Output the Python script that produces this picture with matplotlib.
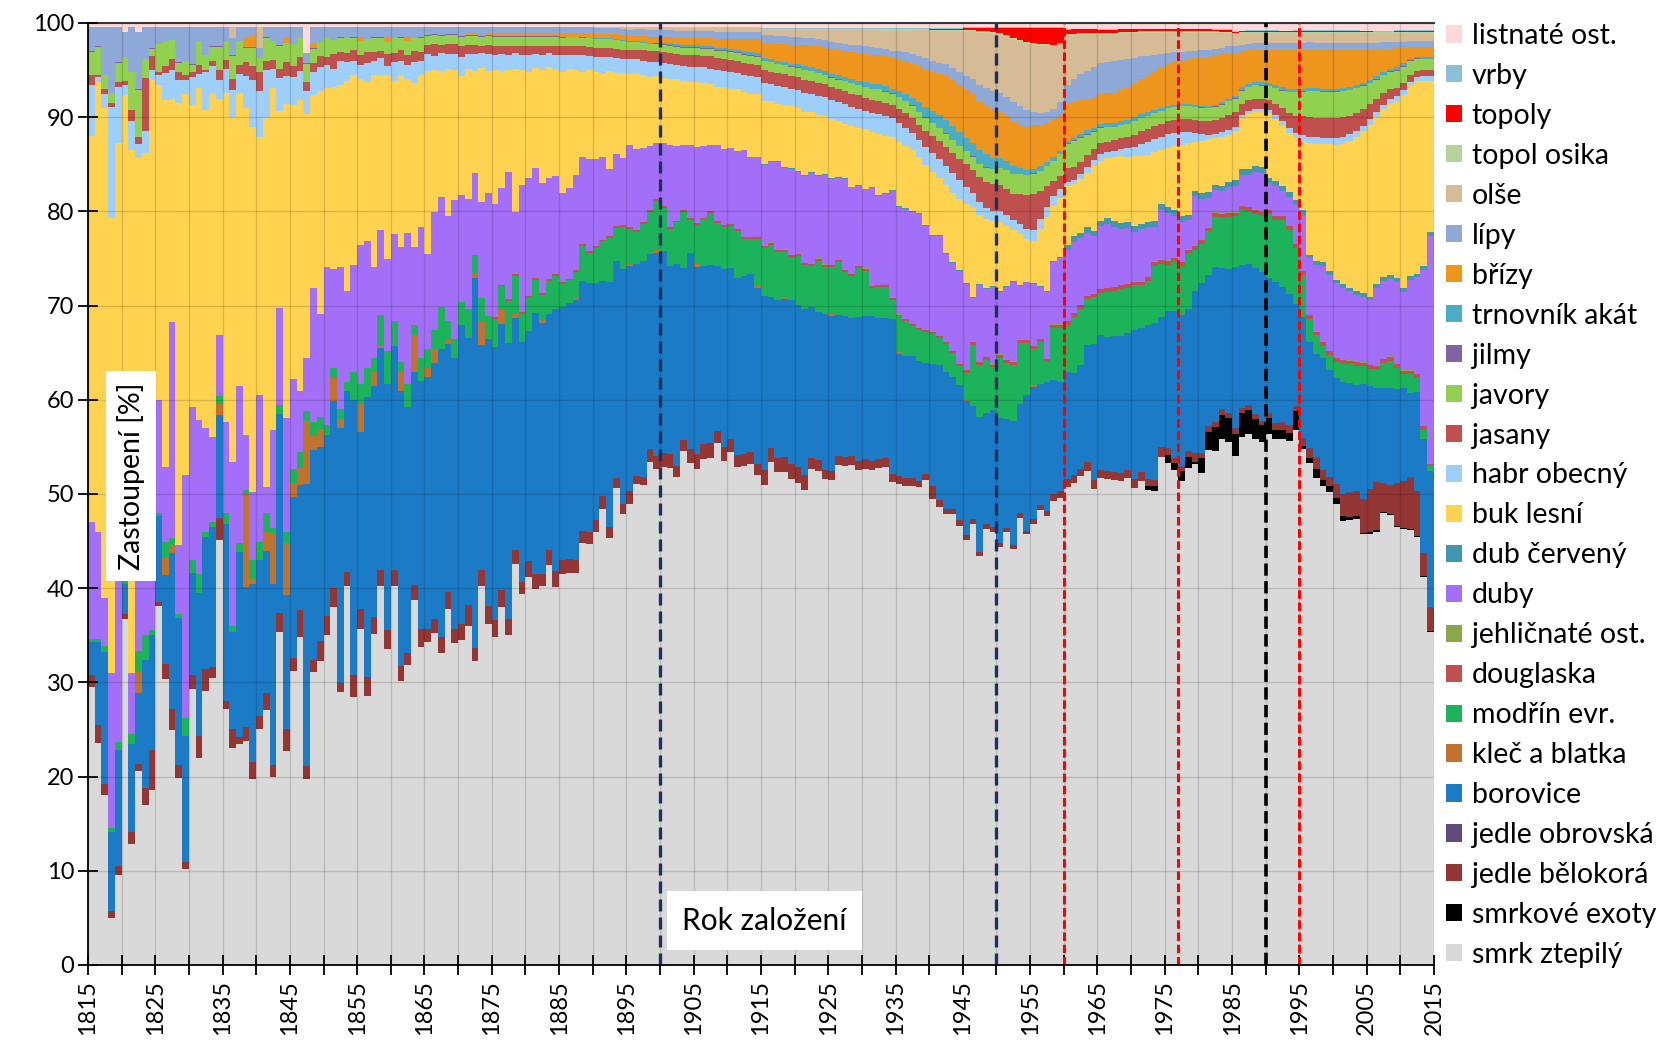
import numpy as np
import matplotlib
matplotlib.use("Agg")
import matplotlib.pyplot as plt
from matplotlib.patches import Patch

plt.rcParams['font.family'] = ['Lato', 'DejaVu Sans']


def values(text):
    # one value per year, 1815 ... 2014
    out = np.array(text.split(), dtype=float)
    assert out.size == 200, out.size
    return out


Z = "0 0 0 0 0 0 0 0 0 0\n"

first_year = 1815
last_year = 2015

# share of each species per year of stand founding (%)
smrk_ztepily = values("""
29.5 23.6 18.1 5.0 9.6 37.0 12.9 20.7 17.0 18.6
38.1 30.4 25.0 19.9 10.2 29.3 22.0 29.1 30.5 45.1
27.3 23.6 23.6 24.0 20.0 25.6 27.1 20.0 35.7 22.8
31.4 34.8 20.3 31.5 32.5 35.2 38.1 29.0 40.3 28.5
35.8 28.6 35.2 40.3 33.7 40.3 30.2 32.0 38.8 33.8
34.3 35.0 33.2 37.8 34.2 34.5 35.9 32.3 40.3 36.3
35.0 38.2 35.0 42.8 39.6 41.3 40.0 40.5 42.7 40.3
41.6 41.8 41.8 44.9 44.9 46.2 48.5 45.5 50.8 48.3
49.2 51.5 51.5 53.8 53.3 53.3 53.3 52.2 55.0 53.6
52.9 54.0 54.0 55.6 53.6 54.5 52.9 52.9 52.9 51.8
51.1 53.3 52.2 52.2 51.5 51.1 50.6 52.6 52.6 51.8
51.8 53.3 53.3 53.3 52.9 52.9 52.6 52.6 52.6 50.8
50.8 50.6 50.6 50.6 51.5 49.5 48.6 47.9 47.9 46.6
45.3 47.0 43.6 46.5 46.0 44.7 46.0 44.2 47.5 45.7
46.9 48.6 48.0 49.5 50.0 50.8 51.7 52.5 52.9 51.0
51.8 51.8 51.8 51.8 52.2 51.1 52.0 50.8 50.8 54.5
53.8 53.2 52.2 53.5 54.0 53.0 55.1 54.1 55.1 54.5
52.9 55.8 56.5 56.0 55.5 56.5 55.8 55.5 55.5 56.8
55.0 54.1 52.2 51.1 50.4 49.1 47.3 47.3 47.3 45.5
45.5 45.5 47.3 47.3 46.4 46.4 46.4 45.8 41.4 35.4
""")

smrkove_exoty = values(Z * 15 + """
0 0 0 0 0 0 0 0.4 0.5 0
0.8 0.8 1.0 1.2 0.2 1.6 2.0 2.6 2.6 2.5
2.3 2.6 2.6 2.2 1.8 1.6 1.0 0.9 0.8 2.0
0.3 0.5 1.0 0.7 0.7 0.6 0.5 0.3 0.3 0.2
0.2 0.2 0.1 0.1 0.1 0.1 0.1 0.1 0.1 0.1
""")

jedle_belokora = values("""
1.3 1.9 1.1 0.7 0.9 0.5 1.2 0.8 1.8 4.2
0.4 1.6 2.2 1.3 0.7 1.5 2.3 2.3 1.2 2.4
0.9 2.0 0.7 1.5 1.8 1.5 1.8 1.3 2.0 2.4
1.4 2.9 1.4 1.3 2.1 2.0 2.0 1.0 1.5 2.3
2.2 2.0 1.8 1.7 2.1 1.7 1.6 1.3 1.6 1.9
1.4 1.5 1.7 1.9 1.5 1.8 2.3 1.4 1.7 1.9
1.8 1.9 1.7 1.5 1.3 1.7 1.6 1.2 1.6 1.7
1.5 1.5 1.4 1.3 1.3 1.3 1.4 1.2 1.1 1.0
1.3 0.8 0.8 1.4 1.4 1.5 1.5 1.2 1.1 1.5
1.6 1.6 1.5 1.3 1.5 1.4 1.3 1.3 1.3 1.1
1.5 1.5 1.5 1.6 1.6 1.7 1.6 1.2 1.2 1.0
1.0 1.0 1.0 1.0 1.0 1.0 1.0 1.0 1.0 0.8
0.8 0.8 0.8 0.7 0.7 1.3 0.7 0.6 0.6 0.6
0.5 0.5 0.5 0.5 0.5 0.5 0.4 0.4 0.5 0.4
0.5 0.5 0.6 0.7 0.7 0.8 0.8 0.8 1.0 0.9
0.9 0.9 0.8 0.9 0.9 0.9 1.0 0.8 0.6 1.0
0.7 0.5 0.5 0.6 0.9 0.5 0.5 0.5 0.5 0.5
0.5 0.5 0.4 0.4 0.4 0.5 0.7 0.8 0.8 0.5
0.8 1.0 1.2 1.0 0.9 1.5 2.3 2.6 2.6 3.5
4.5 5.0 3.0 3.0 4.5 5.0 5.5 4.8 2.4 2.5
""")

jedle_obrovska = values(Z * 16 + """
0.05 0.05 0.05 0.05 0.05 0.05 0.05 0.05 0.05 0.05
""" * 4)

borovice = values("""
3.5 8.8 14.0 8.4 12.3 3.2 9.4 7.6 13.6 12.2
9.2 9.4 16.6 15.6 13.4 10.8 15.2 14.1 14.8 10.9
18.8 10.5 19.7 15.0 19.2 16.9 15.1 19.3 21.3 14.3
17.2 13.3 30.9 22.5 20.7 19.3 19.9 27.0 19.2 29.2
18.8 29.8 24.5 23.5 26.2 23.8 29.2 26.2 22.6 26.3
26.8 27.0 30.6 26.3 28.8 31.7 28.3 39.3 24.0 28.3
29.2 28.4 29.3 24.7 25.6 24.5 27.9 26.8 25.2 28.0
26.9 27.3 27.8 26.6 26.6 25.3 22.9 26.1 23.1 25.2
24.0 22.7 23.2 20.8 21.7 21.6 20.2 21.6 18.4 20.9
20.0 18.9 19.0 17.6 18.9 18.1 18.8 18.8 18.8 18.6
18.6 16.0 16.8 16.7 17.4 17.2 17.6 16.0 15.7 16.7
16.5 15.0 15.0 14.7 15.4 15.3 15.4 14.9 14.7 16.4
12.9 12.9 12.9 12.7 11.8 13.0 14.3 14.5 14.0 14.3
14.2 12.0 14.4 11.8 12.5 13.3 11.6 13.2 11.5 14.4
14.1 12.9 13.8 12.2 11.7 11.4 11.0 11.2 12.5 14.6
14.3 14.3 14.6 14.7 14.7 16.0 15.4 16.4 16.9 14.0
14.7 15.8 16.3 15.2 17.4 18.4 16.2 16.3 14.8 15.0
16.7 15.1 15.0 15.6 15.8 14.4 14.9 14.3 13.9 10.8
12.9 11.4 11.1 11.9 11.4 11.3 11.9 11.6 11.3 12.1
10.8 9.9 10.0 10.2 10.0 9.8 9.0 10.6 12.1 14.5
""")

klec_a_blatka = values("""
0 0 0 0 0 0 0 2.2 0 0
0 1.8 0.8 0 0 0 0 0 0 1.2
0 0 0 10.0 0.5 0 2.0 5.4 0 5.5
1.5 1.8 6.9 1.5 2.0 0 2.5 1.0 0 0
3.0 0 1.5 0.3 0 0 2.0 0 4.0 0
1.0 1.5 0 0.5 0 0 0 0.5 2.5 0
0 1.5 0 0.4 0 0 0 0.3 0 0
0 0 0.3 0 0 0 0 0 0 0
0.2 0 0 0 0.4 0 0 0 0 0
0.3 0 0 0 0 0 0 0 0 0.2
0 0 0 0.2 0 0 0 0 0 0
0.2 0 0 0 0 0 0 0 0 0
0.2 0 0 0 0 0 0 0 0 0
0.2 0 0 0 0 0 0 0 0 0
0.2 0 0 0 0 0 0 0 0 0
""" + Z * 5)

modrin = values("""
0.3 0.3 0.7 0.4 0.9 0.3 1.0 2.2 2.6 0.6
0.3 1.7 0.8 0.5 1.9 1.4 2.0 0.5 0.5 0.8
1.2 0.7 1.0 0.5 2.0 2.0 2.0 0.5 1.0 1.2
1.5 1.7 1.0 1.5 1.2 1.0 1.0 1.0 1.0 3.0
2.2 3.1 1.5 3.2 3.5 2.7 1.0 2.5 1.0 2.5
2.0 2.0 4.5 2.0 2.0 2.5 3.0 2.0 2.5 2.5
3.0 2.5 4.5 4.1 3.0 3.5 3.5 2.7 3.5 3.5
2.5 2.4 2.7 3.7 3.2 3.7 4.2 4.7 3.5 4.5
3.8 3.5 4.0 4.5 5.2 4.6 4.0 4.5 6.0 3.5
4.2 5.0 5.5 4.5 4.5 4.5 5.0 4.0 3.7 5.0
5.1 5.5 5.0 4.8 4.5 5.2 4.7 4.4 5.5 5.0
5.0 5.7 4.7 4.5 5.2 4.8 3.0 3.3 3.3 2.0
3.8 3.7 3.2 3.3 3.3 3.2 2.9 3.0 2.5 2.0
2.8 6.5 5.5 5.7 4.5 6.5 6.0 6.0 6.5 5.5
3.8 4.5 2.1 5.6 5.8 5.0 6.0 6.0 4.9 5.0
4.5 4.8 4.8 5.0 4.8 4.8 4.6 4.7 6.1 5.7
5.0 5.3 5.3 6.0 4.5 4.2 4.7 5.3 5.3 5.5
5.3 5.8 5.7 5.8 6.0 6.8 6.6 7.0 6.8 5.9
4.5 2.5 2.0 1.3 1.6 1.7 2.0 2.0 2.0 1.9
1.8 1.9 2.6 2.9 2.2 1.5 2.0 1.5 1.0 0.5
""")

douglaska = values(Z * 6 + """
0.2 0.2 0.2 0.2 0.2 0.2 0.2 0.2 0.2 0.2
""" * 7 + """
0.3 0.3 0.3 0.3 0.3 0.3 0.3 0.3 0.3 0.3
0.3 0.3 0.3 0.3 0.3 0.4 0.4 0.4 0.4 0.4
0.4 0.4 0.4 0.4 0.4 0.4 0.4 0.4 0.4 0.4
0.4 0.4 0.4 0.4 0.4 0.4 0.4 0.4 0.4 0.4
0.4 0.4 0.4 0.4 0.4 0.4 0.4 0.4 0.4 0.4
0.4 0.4 0.4 0.4 0.4 0.4 0.4 0.4 0.4 0.4
0.4 0.4 0.4 0.4 0.4 0.4 0.4 0.4 0.4 0.3
""")

jehlicnate_ost = values(Z * 10 + """
0.05 0.05 0.05 0.05 0.05 0.05 0.05 0.05 0.05 0.05
""" * 10)

duby = values("""
12.4 11.4 5.1 16.5 21.3 6.0 6.5 13.5 12.0 12.4
12.0 8.0 22.9 7.3 25.8 16.3 16.4 11.0 9.1 6.5
9.7 17.8 16.7 5.8 7.3 15.9 2.8 10.5 10.4 12.2
9.6 6.5 5.8 14.4 11.0 16.9 10.6 15.1 9.6 11.3
14.8 13.5 9.6 9.1 9.9 9.2 12.3 16.1 8.3 13.9
10.1 12.5 11.6 11.1 14.7 11.4 11.7 8.7 10.2 13.1
12.0 10.3 13.4 6.6 13.5 12.5 11.7 11.8 10.8 10.5
9.5 9.6 10.1 9.3 9.8 9.3 8.8 7.2 7.7 7.2
8.7 8.7 7.9 6.9 6.1 6.8 8.8 8.0 7.0 7.8
8.1 7.6 7.1 8.1 8.1 8.1 8.2 9.2 8.5 8.5
8.5 8.5 9.3 8.6 9.1 8.6 9.3 9.6 8.8 9.5
9.2 8.7 9.7 9.2 8.5 8.4 10.4 9.4 9.6 11.2
11.3 11.6 11.8 12.0 11.0 10.1 10.6 9.3 9.3 9.8
9.2 4.7 8.2 7.2 8.2 6.7 7.7 8.4 5.7 6.1
6.6 5.6 7.2 6.7 7.1 7.5 7.6 7.1 6.7 6.1
6.6 6.8 6.4 6.0 6.0 5.3 5.6 5.3 3.7 5.3
5.1 4.5 4.3 3.1 5.3 4.4 3.1 2.3 2.3 2.6
2.7 3.3 3.4 4.0 4.1 2.8 3.1 2.6 3.0 4.1
5.9 6.1 7.1 8.1 8.1 7.9 7.6 7.3 7.1 6.9
6.8 8.1 8.1 8.1 8.7 8.3 9.6 10.3 16.6 24.2
""")

dub_cerveny = values(Z * 10 + """
0.1 0.1 0.1 0.1 0.1 0.1 0.1 0.1 0.1 0.1
""" * 4 + """
0.1 0.1 0.1 0.1 0.1 0.6 0.6 0.6 0.6 0.6
0.6 0.6 0.6 0.6 0.6 0.6 0.6 0.6 0.6 0.6
0.6 0.6 0.6 0.6 0.6 0.6 0.6 0.6 0.6 0.6
0.6 0.6 0.6 0.6 0.6 0.6 0.6 0.6 0.6 0.6
0.6 0.4 0.4 0.4 0.4 0.4 0.4 0.4 0.4 0.4
0.4 0.4 0.4 0.4 0.4 0.4 0.4 0.4 0.4 0.4
""")

buk_lesni = values("""
41.0 47.8 52.0 48.3 42.3 46.0 55.6 39.2 39.2 46.0
33.5 39.0 23.7 46.9 40.5 32.0 35.2 33.8 36.4 25.1
35.1 37.4 31.3 35.1 39.3 28.1 39.2 36.4 21.1 33.5
29.3 30.9 26.7 20.7 23.9 19.0 19.3 19.4 22.4 20.2
17.7 17.0 20.4 16.4 19.6 16.3 18.2 16.4 17.5 16.1
19.4 15.0 13.4 15.7 13.8 12.6 13.8 10.8 14.3 12.9
14.3 12.5 10.9 15.2 12.3 11.3 10.6 12.0 11.8 11.3
12.8 12.7 11.2 9.0 9.5 9.3 8.8 10.4 8.6 9.1
7.6 8.1 7.9 7.4 7.2 7.0 7.0 7.1 6.8 6.8
7.0 6.7 6.5 6.2 6.5 6.2 6.6 6.1 6.6 6.6
6.8 6.4 6.1 6.6 6.5 6.7 6.7 6.4 6.4 6.2
6.3 6.0 5.8 6.5 6.1 6.3 5.8 6.5 6.0 5.5
6.8 6.6 6.4 5.9 6.4 6.7 6.0 7.2 7.4 7.6
8.4 9.4 7.4 7.4 6.9 7.4 6.4 5.4 5.4 4.5
4.5 6.0 7.9 5.8 6.3 6.2 5.6 5.8 5.8 6.9
6.4 6.4 6.8 7.2 7.0 7.5 7.3 7.1 7.4 5.8
6.4 6.9 7.7 7.7 5.2 5.6 5.7 4.9 5.1 4.9
5.1 5.4 5.9 5.8 5.9 6.9 6.6 6.3 6.2 6.5
7.4 12.0 12.6 12.6 13.5 14.4 15.0 15.6 16.4 17.1
18.1 17.6 17.6 18.1 18.8 20.6 20.3 20.6 19.8 16.1
""")

habr_obecny = values("""
5.5 0.5 1.5 11.8 6.0 1.0 3.0 1.5 2.4 1.0
1.0 2.8 3.0 2.5 1.5 3.0 1.5 4.0 3.0 2.0
2.5 3.0 2.0 3.5 5.0 5.0 5.0 2.0 3.5 3.0
3.0 3.0 2.5 2.5 2.5 2.5 2.0 2.5 2.0 1.5
1.5 2.0 1.5 1.8 1.0 2.0 1.5 1.5 2.2 1.5
1.8 1.5 2.0 1.6 1.8 2.0 1.6 1.8 1.5 1.8
1.6 1.8 1.5 1.7 1.6 1.8 1.5 1.6 1.5 1.6
1.8 1.5 1.6 1.8 1.5 1.6 1.8 1.5 1.6 1.5
1.6 1.5 1.5 1.6 1.5 1.6 1.6 1.5 1.6 1.6
1.6 1.7 1.6 1.8 1.7 1.8 1.7 1.8 1.9 1.8
1.9 1.8 1.9 1.9 1.8 1.9 2.0 1.9 2.0 2.0
2.0 2.0 2.1 2.0 2.1 2.0 2.1 2.1 2.1 2.0
2.0 1.9 1.8 1.8 1.9 2.0 2.0 2.1 2.1 2.0
1.8 1.6 1.3 1.1 1.1 1.1 1.1 1.1 1.1 1.1
1.1 1.1 1.1 1.1 1.0 0.5 0.4 0.5 0.6 0.7
0.7 0.7 0.7 0.8 0.9 1.0 1.2 1.4 1.4 1.4
1.4 1.4 1.4 1.2 1.0 0.8 0.5 0.5 0.5 0.5
0.4 0.3 0.3 0.3 0.3 0.3 0.4 0.5 0.5 0.6
0.6 0.7 0.7 0.7 0.7 0.7 0.7 0.7 0.6 0.6
0.6 0.5 0.5 0.5 0.5 0.5 0.5 0.5 0.5 0.5
""")

jasany = values("""
1.0 0.2 0.5 0.5 0.5 0.5 1.2 0.8 5.6 1.5
0.3 0.8 1.2 0.8 0.5 0.5 1.0 0.3 0.5 1.0
1.0 1.2 1.0 1.5 1.5 2.0 1.0 1.0 1.0 1.5
1.2 1.5 1.0 1.0 1.2 0.8 1.5 1.0 1.0 1.2
1.0 1.2 1.0 0.8 1.2 1.0 1.2 1.0 1.2 1.0
1.0 1.2 0.8 1.0 1.0 1.2 0.9 1.0 0.8 1.0
1.0 0.9 1.0 0.8 1.0 1.0 0.9 1.0 0.8 1.0
1.0 1.0 1.0 1.0 1.0 1.0 1.0 1.0 1.0 1.0
1.0 1.0 1.1 1.1 1.1 1.1 1.2 1.2 1.2 1.2
1.2 1.2 1.3 1.3 1.3 1.3 1.3 1.3 1.3 1.3
1.3 1.3 1.3 1.3 1.4 1.4 1.4 1.4 1.4 1.4
1.4 1.4 1.4 1.4 1.4 1.4 1.4 1.4 1.4 1.4
1.5 1.5 1.6 1.6 1.7 1.8 1.9 2.0 2.1 2.2
2.4 2.5 2.7 2.8 2.8 2.8 2.8 2.8 3.2 3.6
3.9 3.0 2.2 1.6 1.4 1.4 1.4 1.3 1.3 1.2
1.2 1.1 1.1 1.1 1.2 1.3 1.4 1.4 1.4 1.4
1.4 1.4 1.4 1.4 1.4 1.4 1.4 1.4 1.5 1.6
1.6 1.2 1.1 1.1 1.1 1.1 1.2 1.4 1.6 1.8
2.0 2.1 2.1 2.1 2.1 2.1 2.1 2.0 1.9 1.8
1.6 1.4 1.2 1.0 0.9 0.8 0.7 0.6 0.6 0.6
""")

javory = values("""
2.5 3.0 1.5 1.0 2.0 2.5 4.0 5.0 2.0 0.8
3.0 2.5 2.0 1.0 1.5 0.8 2.5 1.5 1.5 2.5
2.0 2.5 2.5 1.5 2.0 1.5 2.5 2.0 2.5 2.0
2.3 2.0 2.0 1.5 1.5 2.0 1.5 1.5 1.5 1.3
1.5 1.3 1.5 1.4 1.3 1.5 1.3 1.5 1.3 1.5
1.0 1.0 1.0 1.0 1.0 1.0 1.0 1.0 1.0 1.0
1.0 1.0 1.0 1.0 1.0 1.0 1.0 1.0 1.0 1.0
0.9 0.9 0.9 0.9 0.9 0.9 0.9 0.9 0.9 0.9
0.8 0.8 0.8 0.8 0.8 0.8 0.8 0.8 0.8 0.8
0.8 0.8 0.8 0.8 0.9 0.9 0.9 0.9 0.9 0.9
1.0 1.0 1.0 1.0 1.0 1.0 1.0 1.0 1.0 1.0
1.0 1.0 1.0 1.1 1.1 1.1 1.1 1.2 1.2 1.2
1.2 1.3 1.3 1.4 1.4 1.4 1.4 1.4 1.4 1.4
1.4 1.4 1.4 1.5 1.6 1.8 2.0 2.1 2.1 2.1
2.1 2.1 2.1 2.1 2.3 2.6 2.8 2.6 2.2 1.8
1.6 1.5 1.4 1.4 1.4 1.4 1.4 1.4 1.4 1.4
1.4 1.4 1.4 1.4 1.4 1.4 1.4 1.4 1.4 1.4
1.4 1.4 1.4 1.4 1.4 1.4 1.6 1.8 2.2 2.5
2.6 2.8 2.8 2.8 2.8 2.8 2.8 2.7 2.6 2.4
2.2 2.0 1.9 1.8 1.8 1.7 1.5 1.3 1.2 1.2
""")

jilmy = values("""
0.05 0.05 0.05 0.05 0.05 0.05 0.05 0.05 0.05 0.05
""" * 20)

trnovnik_akat = values(Z * 7 + """
0 0 0 0 0 0.1 0.1 0.1 0.1 0.1
0.1 0.1 0.1 0.1 0.1 0.1 0.2 0.2 0.2 0.2
0.2 0.2 0.2 0.2 0.2 0.2 0.2 0.3 0.3 0.3
0.3 0.3 0.3 0.3 0.3 0.3 0.4 0.4 0.4 0.4
0.4 0.4 0.4 0.4 0.4 0.5 0.5 0.5 0.5 0.5
0.6 0.7 0.8 1.0 1.1 1.2 1.3 1.4 1.4 1.4
1.4 1.4 1.4 1.4 1.2 1.0 0.9 0.8 0.6 0.5
0.5 0.5 0.4 0.4 0.3 0.3 0.3 0.4 0.4 0.4
0.4 0.4 0.4 0.4 0.4 0.4 0.4 0.4 0.3 0.3
0.2 0.2 0.2 0.2 0.2 0.2 0.2 0.2 0.2 0.2
0.2 0.3 0.3 0.3 0.3 0.3 0.3 0.3 0.3 0.3
0.3 0.3 0.3 0.3 0.3 0.3 0.3 0.3 0.3 0.3
0.3 0.3 0.3 0.3 0.3 0.3 0.2 0.2 0.2 0.2
""")

brizy = values(Z * 2 + """
0 0 0 1.0 1.2 0 0 0 0 0.5
0 0 0 0.5 0 0 0 0 0 0
0.4 0 0 0 0.5 0 0 0.4 0 0
0 0 0 0 0 0.1 0.1 0.1 0.1 0.1
0.2 0.2 0.2 0.2 0.2 0.2 0.2 0.2 0.2 0.2
0.3 0.3 0.3 0.3 0.4 0.4 0.4 0.4 0.5 0.5
0.5 0.5 0.6 0.6 0.6 0.7 0.7 0.7 0.8 0.8
0.8 0.9 0.9 1.0 1.0 1.1 1.2 1.3 1.4 1.5
1.6 1.7 1.8 1.9 2.0 2.1 2.2 2.3 2.4 2.5
2.6 2.7 2.8 2.9 3.0 3.0 3.1 3.1 3.2 3.3
3.4 3.5 3.6 3.8 4.0 4.2 4.4 4.7 4.9 5.0
5.1 5.2 5.3 5.3 5.2 5.0 4.8 4.7 4.6 4.6
4.6 4.4 4.2 4.0 3.9 3.9 3.8 3.6 3.4 3.3
3.2 3.2 3.2 3.3 3.5 3.6 3.8 3.9 4.1 4.3
4.5 4.6 4.6 4.8 5.0 5.2 5.3 5.2 5.0 4.8
4.5 3.8 3.6 3.5 3.5 3.6 3.8 4.0 4.2 4.2
4.2 4.2 4.2 4.2 4.2 4.2 4.1 4.0 3.8 3.5
3.2 2.8 2.4 2.1 2.0 1.6 1.2 1.0 1.0 1.0
""")

lipy = values("""
2.6 2.1 5.1 7.0 3.8 2.6 4.8 6.1 3.4 2.3
1.8 1.6 1.4 3.8 3.6 4.0 1.5 3.0 2.1 2.1
1.5 1.9 1.5 1.2 1.0 1.1 1.1 1.5 2.0 1.2
1.8 1.2 1.1 1.8 1.6 1.2 1.4 1.1 1.2 1.1
1.1 1.3 1.1 1.1 1.1 1.2 1.1 1.1 1.2 1.1
0.9 0.8 0.9 0.8 0.8 0.9 0.8 0.8 0.9 0.8
0.8 0.8 0.8 0.8 0.8 0.8 0.8 0.8 0.8 0.8
0.8 0.8 0.8 0.8 0.8 0.7 0.7 0.7 0.7 0.7
0.7 0.7 0.7 0.7 0.7 0.7 0.7 0.7 0.7 0.7
0.7 0.7 0.7 0.7 0.7 0.7 0.7 0.7 0.7 0.7
0.8 0.8 0.8 0.8 0.8 0.8 0.8 0.8 0.8 0.8
0.8 0.8 0.8 0.8 0.8 0.8 0.8 0.7 0.7 0.7
0.8 0.9 1.0 1.1 1.2 1.2 1.2 1.2 1.3 1.4
1.5 1.6 1.7 1.8 1.9 2.0 2.0 2.1 2.0 1.8
1.4 1.3 1.2 1.1 1.3 2.0 2.5 2.8 3.0 3.2
3.2 3.3 3.4 3.2 3.0 2.7 2.4 2.1 1.8 1.5
1.2 1.1 1.0 0.9 0.8 0.8 0.7 0.7 0.7 0.7
0.7 0.7 0.7 0.7 0.7 0.7 0.7 0.7 0.7 0.7
0.7 0.7 0.7 0.7 0.7 0.7 0.7 0.7 0.7 0.7
0.7 0.7 0.7 0.7 0.7 0.7 0.7 0.7 0.7 0.7
""")

olse = values(Z * 2 + """
0 1.2 0 0 0 2.3 0 0 0 0
""" + Z * 4 + """
0 0 0 0 0 0.1 0.1 0.1 0.1 0.2
0.2 0.2 0.2 0.3 0.3 0.3 0.3 0.4 0.4 0.4
0.4 0.4 0.4 0.5 0.5 0.5 0.5 0.5 0.5 0.5
0.6 0.6 0.7 0.7 0.8 0.8 0.9 0.9 1.0 1.1
1.2 1.3 1.4 1.5 1.6 1.7 1.8 1.9 2.0 2.1
2.2 2.3 2.5 2.7 2.9 3.1 3.3 3.5 3.8 4.2
4.6 5.0 5.5 5.8 6.0 6.2 6.4 6.6 6.8 7.0
7.2 7.2 7.0 6.7 6.2 5.2 4.6 4.2 3.8 3.4
3.0 2.9 2.8 2.8 2.7 2.6 2.5 2.4 2.3 2.2
2.1 2.0 2.0 1.9 1.9 1.8 1.8 1.6 1.5 1.3
1.2 1.1 1.0 0.9 0.9 0.9 0.9 0.9 0.9 0.9
0.9 0.9 0.9 0.9 0.9 0.9 0.9 0.9 0.9 0.9
0.9 0.9 0.8 0.8 0.8 0.8 0.7 0.7 0.7 0.7
""")

topol_osika = values(Z * 8 + """
0.1 0.1 0.1 0.1 0.1 0.1 0.1 0.1 0.1 0.1
""" * 3 + """
0.2 0.2 0.2 0.2 0.2 0.2 0.2 0.2 0.2 0.2
""" * 9)

topoly = values(Z * 12 + """
0 0 0 0 0 0.1 0.1 0.1 0.2 0.2
0.3 0.3 0.4 0.4 0.5 0.6 0.8 1.1 1.3 1.5
1.6 1.7 1.8 1.8 1.6 0.5 0.5 0.4 0.4 0.4
0.4 0.4 0.4 0.3 0.3 0.3 0.2 0.2 0.2 0.2
0.2 0.2 0.2 0.2 0.2 0.2 0.2 0.2 0.2 0.2
""" + """
0.1 0.1 0.1 0.1 0.1 0.1 0.1 0.1 0.1 0.1
""" * 3)

vrby = values(Z * 10 + """
0.1 0.1 0.1 0.1 0.1 0.1 0.1 0.1 0.1 0.1
""" * 10)

listnate_ost = values("""
0.4 0.4 0.4 0.4 0.4 1.0 0.4 1.0 0.4 0.4
0.4 0.4 0.4 0.4 0.4 0.4 0.4 0.4 0.4 0.4
0.4 0.4 0.4 0.4 0.4 0.4 0.4 0.4 0.4 0.4
0.4 0.4 3.3 0.4 0.4 0.4 0.4 0.4 0.4 0.4
""" + """
0.4 0.4 0.4 0.4 0.4 0.4 0.4 0.4 0.4 0.4
""" * 6 + """
0.5 0.5 0.5 0.5 0.5 0.5 0.5 0.5 0.5 0.5
""" * 3 + """
0.4 0.4 0.4 0.4 0.4 0.4 0.4 0.4 0.4 0.4
0.4 0.4 0.4 0.4 0.4 0.6 0.6 0.6 0.6 0.6
0.6 0.6 0.6 0.6 0.6 0.6 0.6 0.6 0.6 0.6
0.6 0.6 0.6 0.6 0.6 0.6 0.6 0.6 0.6 0.6
""" + """
0.8 0.8 0.8 0.8 0.8 0.8 0.8 0.8 0.8 0.8
""" * 3)

# bottom -> top, as stacked in the chart
layers = [
    ("smrk ztepilý", smrk_ztepily, "#D9D9D9"),
    ("smrkové exoty", smrkove_exoty, "#000000"),
    ("jedle bělokorá", jedle_belokora, "#943634"),
    ("jedle obrovská", jedle_obrovska, "#604A7B"),
    ("borovice", borovice, "#1C7BC6"),
    ("kleč a blatka", klec_a_blatka, "#C0722F"),
    ("modřín evr.", modrin, "#1DB35B"),
    ("douglaska", douglaska, "#C0504D"),
    ("jehličnaté ost.", jehlicnate_ost, "#8AA84B"),
    ("duby", duby, "#A46FF8"),
    ("dub červený", dub_cerveny, "#4297AE"),
    ("buk lesní", buk_lesni, "#FFD34F"),
    ("habr obecný", habr_obecny, "#9DCFFA"),
    ("jasany", jasany, "#C0504D"),
    ("javory", javory, "#92D050"),
    ("jilmy", jilmy, "#8064A2"),
    ("trnovník akát", trnovnik_akat, "#4BACC6"),
    ("břízy", brizy, "#EE951E"),
    ("lípy", lipy, "#8EA9D8"),
    ("olše", olse, "#D6BB97"),
    ("topol osika", topol_osika, "#B5D39C"),
    ("topoly", topoly, "#FF0000"),
    ("vrby", vrby, "#8DC0D8"),
    ("listnaté ost.", listnate_ost, "#FFD9D9"),
]

years = np.arange(first_year, last_year)
total = np.sum([v for _, v, _ in layers], axis=0)

fig = plt.figure(figsize=(16.6, 10.43), dpi=100)
ax = fig.add_axes([0.053, 0.0748, 0.8108, 0.9032])

bottom = np.zeros(len(years))
for name, vals, col in layers:
    share = vals / total * 100
    ax.bar(years, share, width=1.0, bottom=bottom, align='edge', color=col,
           linewidth=0, antialiased=False, zorder=1)
    bottom += share

ax.set_xlim(first_year, last_year)
ax.set_ylim(0, 100)

# x axis: labels every 10 years, ticks every 5
ax.set_xticks(np.arange(1815, 2016, 10))
ax.set_xticks(np.arange(1820, 2015, 10), minor=True)
ax.set_xticklabels([str(y) for y in range(1815, 2016, 10)], rotation=90)
ax.set_yticks(np.arange(0, 101, 10))

ax.tick_params(axis='both', which='both', direction='inout', length=14,
               width=1.3, labelsize=17, color='black')
ax.tick_params(axis='y', pad=3)
ax.tick_params(axis='x', pad=4)

ax.grid(True, which='both', axis='x', color='black', alpha=0.14, lw=1)
ax.grid(True, which='major', axis='y', color='black', alpha=0.14, lw=1)
ax.set_axisbelow(False)

for s in ['left', 'bottom']:
    ax.spines[s].set_linewidth(1.3)
    ax.spines[s].set_zorder(5)
ax.spines['top'].set_color('#3a3a3a')
ax.spines['top'].set_linewidth(1.5)
ax.spines['right'].set_visible(False)

# marker lines
ax.axvline(1900, color='#1F2F5C', lw=2.4, ls=(0, (3.6, 1.8)), zorder=4)
ax.axvline(1950, color='#1F2F5C', lw=2.4, ls=(0, (3.6, 1.8)), zorder=4)
ax.axvline(1960, color='#FF0000', lw=2.2, ls=(0, (2.8, 1.2)), zorder=4)
ax.axvline(1977, color='#FF0000', lw=2.2, ls=(0, (2.8, 1.2)), zorder=4)
ax.axvline(1995, color='#FF0000', lw=2.2, ls=(0, (2.8, 1.2)), zorder=4)
ax.axvline(1990, color='#000000', lw=2.6, ls=(0, (3.4, 1.5)), zorder=4)

ax.text(1821.4, 51.9, "Zastoupení [%]", rotation=90, fontsize=20.5,
        ha='center', va='center', zorder=6,
        bbox=dict(facecolor='white', edgecolor='none', pad=8))
ax.text(1915.5, 4.7, "Rok založení", fontsize=21.5, ha='center', va='center',
        bbox=dict(facecolor='white', edgecolor='none', pad=11), zorder=6)

handles = [Patch(facecolor=col, edgecolor='none', label=name)
           for name, _, col in reversed(layers)]
fig.legend(handles=handles, loc='upper left',
           bbox_to_anchor=(1446 / 1660, 1 - 23 / 1043), frameon=False,
           fontsize=20.5, handlelength=0.55, handleheight=0.55,
           handletextpad=0.35, labelspacing=0.49, borderaxespad=0,
           borderpad=0)

fig.savefig("out.png", dpi=100)
